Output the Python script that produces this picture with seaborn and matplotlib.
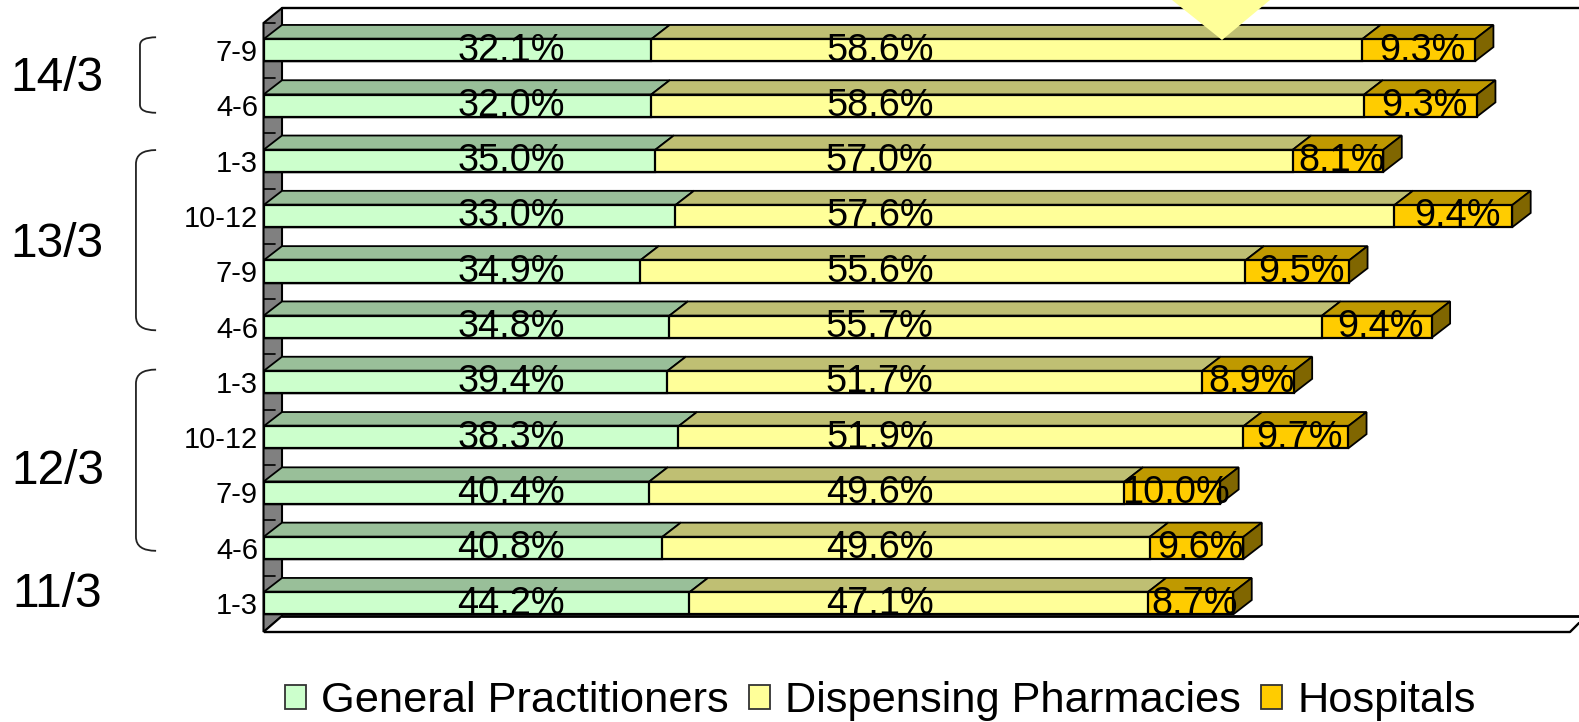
import numpy as np
import pandas as pd
import matplotlib
matplotlib.use("Agg")
import matplotlib.pyplot as plt
from matplotlib.patches import Patch, PathPatch, Polygon
from matplotlib.path import Path
import seaborn as sns

quarters = ["7-9", "4-6", "1-3", "10-12", "7-9", "4-6", "1-3", "10-12", "7-9", "4-6", "1-3"]
general_practitioners = [385, 385, 389, 409, 374, 403, 401, 412, 383, 396, 423]
dispensing_pharmacies = [706, 708, 633, 714, 601, 648, 531, 561, 472, 484, 455]
hospitals = [112, 112, 90, 117, 103, 109, 91, 104, 95, 93, 85]
gp_labels = ["32.1%", "32.0%", "35.0%", "33.0%", "34.9%", "34.8%", "39.4%", "38.3%", "40.4%", "40.8%", "44.2%"]
ph_labels = ["58.6%", "58.6%", "57.0%", "57.6%", "55.6%", "55.7%", "51.7%", "51.9%", "49.6%", "49.6%", "47.1%"]
ho_labels = ["9.3%", "9.3%", "8.1%", "9.4%", "9.5%", "9.4%", "8.9%", "9.7%", "10.0%", "9.6%", "8.7%"]
series_names = ["General Practitioners", "Dispensing Pharmacies", "Hospitals"]
year_labels = ["14/3", "13/3", "12/3", "11/3"]

front = ["#CCFFCC", "#FFFF99", "#FFCC00"]
top = ["#99BF99", "#BFBF73", "#BF9900"]
side = "#806600"
W, H = 1579, 722

sns.set_theme(style="white")
plt.rcParams["font.family"] = ["Liberation Sans", "DejaVu Sans"]

fig = plt.figure(figsize=(W / 100, H / 100), dpi=100, facecolor="white")
x0_px, pitch, r0_px, scale = 263.5, 55.3, 50.3, 1.007
ax_bottom_px = 640
ax = fig.add_axes([x0_px / W, 1 - ax_bottom_px / H, 1 - x0_px / W, ax_bottom_px / H])

gp = np.array(general_practitioners, float)
ph = np.array(dispensing_pharmacies, float)
ho = np.array(hospitals, float)
df = pd.DataFrame({"row": [f"r{i}" for i in range(len(gp))],
                   "gp": gp, "gp_ph": gp + ph, "total": gp + ph + ho})

bar_h = 0.40
for col, c in zip(["total", "gp_ph", "gp"], front[::-1]):
    sns.barplot(data=df, y="row", x=col, orient="h", color=c, saturation=1,
                width=bar_h, edgecolor="black", linewidth=1.6, ax=ax, zorder=5)

px2r = lambda y: (y - r0_px) / pitch
ax.set_ylim(px2r(ax_bottom_px), px2r(0))
ax.set_xlim(0, (W - x0_px) / scale)
dx, dy = 18.5 / scale, 14.3 / pitch

# plot box: walls and floor
xmax = ax.get_xlim()[1]
r_top_back, r_top_front = px2r(8), px2r(23)
r_floor_back, r_floor_front = px2r(616), px2r(632)
ax.add_patch(Polygon([(0, r_top_front), (dx, r_top_back), (dx, r_floor_back), (0, r_floor_front)],
                     closed=True, fc="#808080", ec="black", lw=1.5, zorder=1, clip_on=False))
ax.plot([dx, xmax], [r_top_back, r_top_back], color="black", lw=1.7, zorder=2)
ax.plot([dx, xmax], [r_floor_back, r_floor_back], color="black", lw=2.0, zorder=2)
floor_end = (1570 - x0_px) / scale
ax.plot([0, floor_end, xmax], [r_floor_front, r_floor_front, px2r(623)], color="black", lw=1.7, zorder=2)
ax.fill([0, dx, dx, 0], [r_floor_front, r_floor_back, r_floor_front, r_floor_front], fc="white", ec="none", zorder=1.5)
ax.plot([0, dx], [r_floor_front, r_floor_back], color="black", lw=1.5, zorder=2)
for r in range(len(gp)):
    ax.plot([0, dx * 0.6], [r - 0.5, r - 0.5], color="black", lw=1.2, zorder=2)

# 3-D faces computed from the values
for r in range(len(gp)):
    edges = [0, gp[r], gp[r] + ph[r], gp[r] + ph[r] + ho[r]]
    yf = r - bar_h / 2
    for j in range(3):
        a, b = edges[j], edges[j + 1]
        ax.fill([a, b, b + dx, a + dx], [yf, yf, yf - dy, yf - dy], fc=top[j], ec="black", lw=1.3, zorder=4)
    e = edges[3]
    ax.fill([e, e + dx, e + dx, e], [yf, yf - dy, yf + bar_h - dy, yf + bar_h],
            fc=side, ec="black", lw=1.3, zorder=4)
    base = r + bar_h / 2 - 0.015
    ax.text(246, base, gp_labels[r], ha="center", va="baseline", fontsize=27.3, color="black", zorder=7)
    ax.text(612, base, ph_labels[r], ha="center", va="baseline", fontsize=27.3, color="black", zorder=7)
    ax.text((edges[2] + edges[3]) / 2 + 4, base, ho_labels[r], ha="center", va="baseline",
            fontsize=27.3, color="black", zorder=7)

ax.set_yticks(range(len(quarters)))
ax.set_yticklabels(quarters, fontsize=21, color="black", va="center")
ax.tick_params(axis="y", length=0, pad=4)
for t in ax.get_yticklabels():
    t.set_transform(t.get_transform() + matplotlib.transforms.ScaledTranslation(0, -2 / 72, fig.dpi_scale_trans))
ax.tick_params(axis="x", bottom=False, labelbottom=False)
ax.set_xlabel("")
ax.set_ylabel("")
for s_ in ax.spines.values():
    s_.set_visible(False)
ax.patch.set_alpha(0)

# annotation layer in pixel coordinates
over = fig.add_axes([0, 0, 1, 1], zorder=10)
over.set_xlim(0, W)
over.set_ylim(H, 0)
over.axis("off")
s = 1.007
over.add_patch(Polygon([(1172, 0), (1270, 0), (1222, 40)], closed=True, fc="#FFFF99", ec="none"))

def bracket(xl, xr, yt, yb, ry):
    verts = [(xr, yt), (xl, yt), (xl, yt + ry), (xl, yb - ry), (xl, yb), (xr, yb)]
    codes = [Path.MOVETO, Path.CURVE3, Path.CURVE3, Path.LINETO, Path.CURVE3, Path.CURVE3]
    over.add_patch(PathPatch(Path(verts, codes), fc="none", ec="#222222", lw=1.3))

bracket(139 * s, 155 * s, 37 * s, 112 * s, 8)
bracket(135 * s, 155 * s, 149 * s, 328 * s, 14)
bracket(135 * s, 155 * s, 367 * s, 547 * s, 14)
for lab, y in zip(year_labels, [78, 243, 468, 590]):
    over.text(57 * s, y * s, lab, ha="center", va="center", fontsize=34.5, color="black")

handles = [Patch(fc=c, ec="#333333", lw=1.3) for c in front]
fs = 31.2
fig.legend(handles, series_names, ncol=3, frameon=False, fontsize=fs,
           loc="lower left", bbox_to_anchor=(283 * s / W, 1 / H),
           handlelength=20.5 / 43, handleheight=20.5 / 43, handletextpad=15 / 43,
           columnspacing=20.5 / 43, borderpad=0.0, borderaxespad=0.0, labelcolor="black")

fig.savefig("out.png", dpi=100)
